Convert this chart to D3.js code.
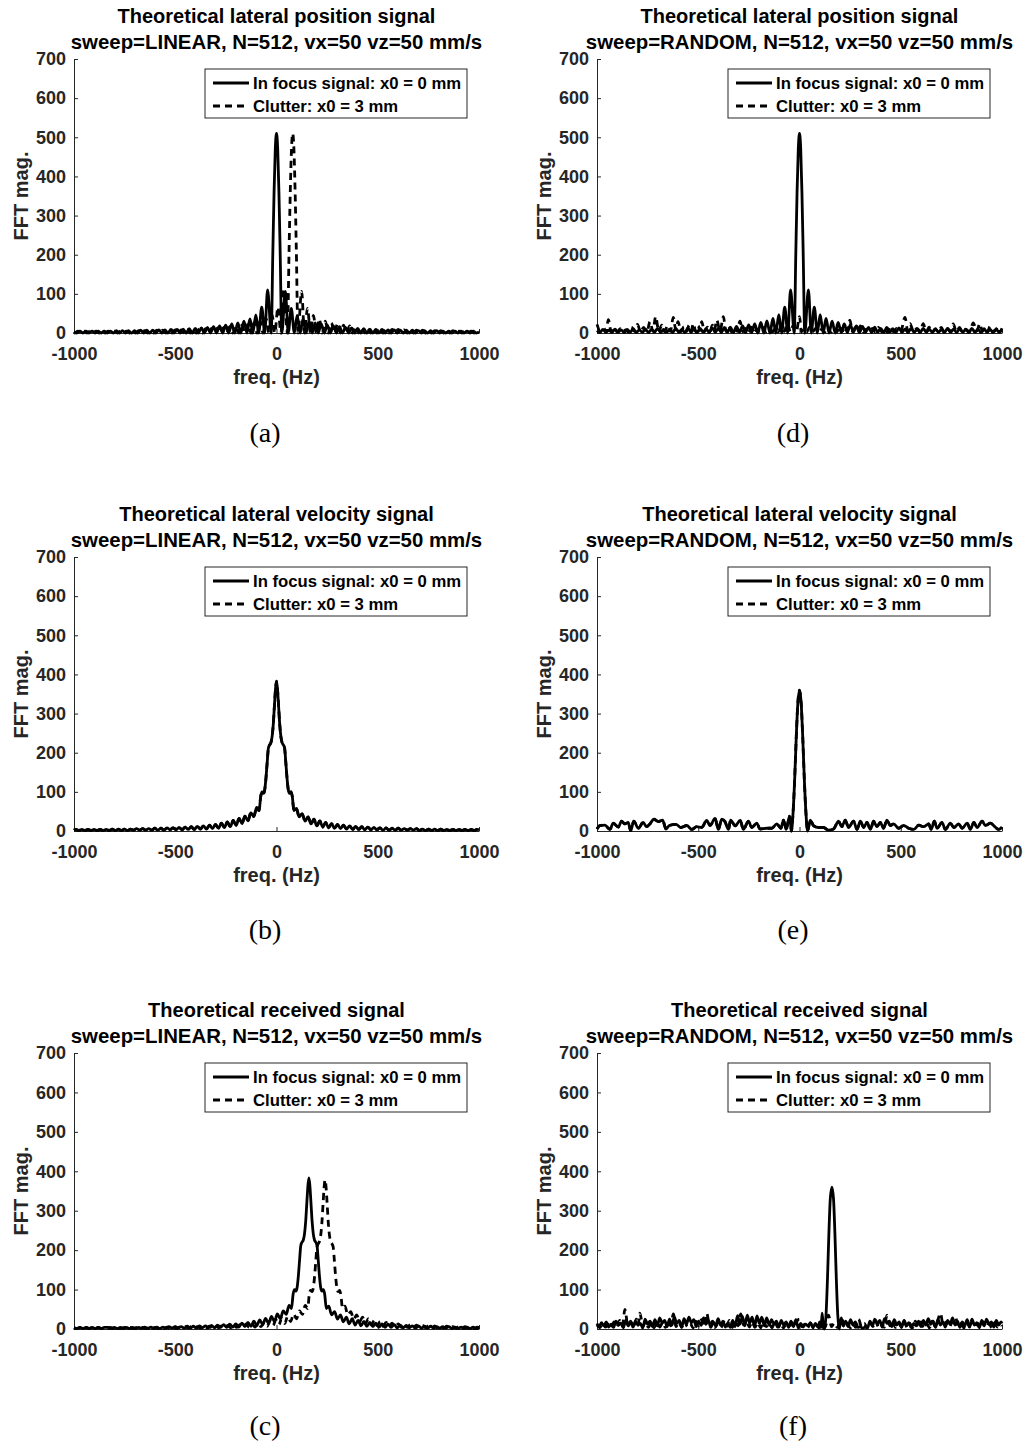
<!DOCTYPE html>
<html><head><meta charset="utf-8">
<script src="https://cdn.jsdelivr.net/npm/d3@7"></script>
<style>
body{margin:0;background:#fff;}
svg{display:block;}
</style></head><body>
<svg id="chart" width="1026" height="1444"></svg>
<script>
// ---------------- DATA ----------------
const xTickValues = [-1000, -500, 0, 500, 1000];
const xTickLabels = ["-1000", "-500", "0", "500", "1000"];
const yTickValues = [0, 100, 200, 300, 400, 500, 600, 700];
const yTickLabels = ["0", "100", "200", "300", "400", "500", "600", "700"];

const titleLines = ["Theoretical lateral position signal", "Theoretical lateral velocity signal", "Theoretical received signal"];
const sweepNames = ["LINEAR", "RANDOM"];
const subtitleTemplate = ["sweep=", ", N=512, vx=50 vz=50 mm/s"];
const legendLabels = ["In focus signal: x0 = 0 mm", "Clutter: x0 = 3 mm"];
const captions = ["(a)", "(b)", "(c)", "(d)", "(e)", "(f)"];
const xLabel = "freq. (Hz)";
const yLabel = "FFT mag.";

// (a) lateral position, LINEAR sweep – in focus  [freq Hz, magnitude]
const posLinFocus = [[-1000,3],[-986,0],[-971,5],[-956,0],[-941,5],[-926,0],[-911,5],[-896,0],[-881,5],[-866,0],[-851,5],[-836,0],[-821,5],[-806,0],[-791,6],[-776,0],[-761,6],[-746,0],[-731,6],[-716,0],[-701,6],[-686,0],[-671,7],[-656,0],[-641,7],[-626,0],[-611,7],[-596,0],[-581,8],[-566,0],[-551,8],[-536,0],[-521,9],[-506,0],[-491,9],[-476,0],[-461,10],[-446,0],[-431,11],[-416,0],[-401,12],[-386,0],[-371,13],[-356,0],[-341,14],[-326,0],[-311,16],[-296,0],[-281,18],[-266,0],[-251,20],[-236,0],[-221,23],[-206,0],[-191,26],[-176,0],[-161,30],[-146,0],[-131,36],[-117,0],[-102,46],[-88,0],[-73,66],[-58,0],[-44,110],[-26,0],[-18,210],[-12,360],[-6,470],[0,510],[6,470],[12,360],[18,210],[26,0],[44,106],[58,0],[73,63],[88,0],[102,45],[117,0],[131,36],[146,0],[161,30],[176,0],[191,26],[206,0],[221,23],[236,0],[251,20],[266,0],[281,18],[296,0],[311,16],[326,0],[341,14],[356,0],[371,13],[386,0],[401,12],[416,0],[431,11],[446,0],[461,10],[476,0],[491,9],[506,0],[521,9],[536,0],[551,8],[566,0],[581,8],[596,0],[611,7],[626,0],[641,7],[656,0],[671,7],[686,0],[701,6],[716,0],[731,6],[746,0],[761,6],[776,0],[791,6],[806,0],[821,5],[836,0],[851,5],[866,0],[881,5],[896,0],[911,5],[926,0],[941,5],[956,0],[971,5],[986,0],[1000,3]];
// (a) clutter
const posLinClutter = [[-1000,2],[-996,0],[-981,5],[-966,0],[-951,5],[-936,0],[-921,5],[-906,0],[-891,5],[-876,0],[-861,5],[-846,0],[-831,5],[-816,0],[-801,5],[-786,0],[-771,5],[-756,0],[-741,5],[-726,0],[-711,6],[-696,0],[-681,6],[-666,0],[-651,6],[-636,0],[-621,6],[-606,0],[-591,7],[-576,0],[-561,7],[-546,0],[-531,7],[-516,0],[-501,8],[-486,0],[-471,8],[-456,0],[-441,9],[-426,0],[-411,9],[-396,0],[-381,10],[-366,0],[-351,11],[-336,0],[-321,12],[-306,0],[-291,13],[-276,0],[-261,14],[-246,0],[-231,16],[-216,0],[-201,18],[-186,0],[-171,20],[-156,0],[-141,23],[-126,0],[-111,26],[-96,0],[-81,30],[-66,0],[-51,36],[-37,0],[-22,46],[-8,0],[7,66],[22,0],[36,110],[54,0],[62,210],[68,360],[74,470],[80,510],[86,470],[92,360],[98,210],[106,0],[124,106],[138,0],[153,63],[168,0],[182,45],[197,0],[211,36],[226,0],[241,30],[256,0],[271,26],[286,0],[301,23],[316,0],[331,20],[346,0],[361,18],[376,0],[391,16],[406,0],[421,14],[436,0],[451,13],[466,0],[481,12],[496,0],[511,11],[526,0],[541,10],[556,0],[571,9],[586,0],[601,9],[616,0],[631,8],[646,0],[661,8],[676,0],[691,7],[706,0],[721,7],[736,0],[751,7],[766,0],[781,6],[796,0],[811,6],[826,0],[841,6],[856,0],[871,6],[886,0],[901,5],[916,0],[931,5],[946,0],[961,5],[976,0],[991,5],[1000,3]];

// (b) lateral velocity, LINEAR sweep – in focus (clutter coincides)
const velLinFocus = [[-1000,2],[-991,4],[-976,1],[-961,4],[-946,1],[-931,4],[-916,1],[-901,4],[-886,1],[-871,4],[-856,1],[-841,4],[-826,1],[-811,5],[-796,1],[-781,5],[-766,1],[-751,5],[-736,1],[-721,5],[-706,2],[-691,6],[-676,2],[-661,6],[-646,2],[-631,6],[-616,2],[-601,7],[-586,2],[-571,7],[-556,2],[-541,8],[-526,3],[-511,8],[-496,3],[-481,9],[-466,3],[-451,10],[-436,4],[-421,11],[-406,4],[-391,12],[-376,5],[-361,13],[-346,5],[-331,15],[-316,6],[-301,17],[-286,7],[-272,20],[-257,9],[-243,23],[-228,11],[-214,27],[-199,14],[-185,32],[-170,19],[-156,38],[-141,26],[-127,46],[-112,37],[-98,60],[-86,52],[-78,88],[-72,100],[-64,96],[-58,106],[-52,135],[-46,175],[-40,212],[-34,220],[-28,225],[-22,240],[-16,272],[-10,322],[-5,362],[0,383],[5,362],[10,322],[16,272],[22,240],[28,225],[34,220],[40,212],[46,175],[52,135],[58,106],[64,96],[72,100],[78,88],[86,52],[98,58],[112,36],[127,44],[141,25],[156,36],[170,18],[185,30],[199,13],[214,26],[228,10],[243,22],[257,8],[272,19],[286,7],[301,17],[316,6],[331,15],[346,5],[361,13],[376,4],[391,12],[406,4],[421,11],[436,3],[451,10],[466,3],[481,9],[496,3],[511,8],[526,2],[541,8],[556,2],[571,7],[586,2],[601,7],[616,2],[631,6],[646,2],[661,6],[676,2],[691,6],[706,1],[721,5],[736,1],[751,5],[766,1],[781,5],[796,1],[811,5],[826,1],[841,4],[856,1],[871,4],[886,1],[901,4],[916,1],[931,4],[946,1],[961,4],[976,1],[991,4],[1000,3]];
const velLinClutter = velLinFocus;

// (c) received, LINEAR sweep
const recvLinFocus = [[-1000,3],[-985,1],[-970,4],[-955,1],[-940,4],[-925,1],[-910,4],[-895,1],[-880,4],[-865,1],[-850,4],[-831,4],[-816,1],[-801,4],[-786,1],[-771,4],[-756,1],[-741,4],[-726,1],[-711,4],[-696,1],[-681,4],[-666,1],[-651,5],[-636,1],[-621,5],[-606,1],[-591,5],[-576,1],[-561,5],[-546,2],[-531,6],[-516,2],[-501,6],[-486,2],[-471,6],[-456,2],[-441,7],[-426,2],[-411,7],[-396,2],[-381,8],[-366,3],[-351,8],[-336,3],[-321,9],[-306,3],[-291,10],[-276,4],[-261,11],[-246,4],[-231,12],[-216,5],[-201,13],[-186,5],[-171,15],[-156,6],[-141,17],[-126,7],[-112,20],[-97,9],[-83,23],[-68,11],[-54,27],[-39,14],[-25,32],[-10,19],[4,38],[19,26],[33,46],[48,37],[62,60],[74,52],[82,88],[88,100],[96,96],[102,106],[108,135],[114,175],[120,212],[126,220],[132,225],[138,240],[144,272],[150,322],[155,362],[160,383],[165,362],[170,322],[176,272],[182,240],[188,225],[194,220],[200,212],[206,175],[212,135],[218,106],[224,96],[232,100],[238,88],[246,52],[258,58],[272,36],[287,44],[301,25],[316,36],[330,18],[345,30],[359,13],[374,26],[388,10],[403,22],[417,8],[432,19],[446,7],[461,17],[476,6],[491,15],[506,5],[521,13],[536,4],[551,12],[566,4],[581,11],[596,3],[611,10],[626,3],[641,9],[656,3],[671,8],[686,2],[701,8],[716,2],[731,7],[746,2],[761,7],[776,2],[791,6],[806,2],[821,6],[836,2],[851,6],[866,1],[881,5],[896,1],[911,5],[926,1],[941,5],[956,1],[971,5],[986,1],[1000,4]];
const recvLinClutter = [[-1000,3],[-985,1],[-970,4],[-955,1],[-940,4],[-925,1],[-910,4],[-895,1],[-880,4],[-865,1],[-850,4],[-835,1],[-820,4],[-805,1],[-790,4],[-775,1],[-751,4],[-736,1],[-721,4],[-706,1],[-691,4],[-676,1],[-661,4],[-646,1],[-631,4],[-616,1],[-601,4],[-586,1],[-571,5],[-556,1],[-541,5],[-526,1],[-511,5],[-496,1],[-481,5],[-466,2],[-451,6],[-436,2],[-421,6],[-406,2],[-391,6],[-376,2],[-361,7],[-346,2],[-331,7],[-316,2],[-301,8],[-286,3],[-271,8],[-256,3],[-241,9],[-226,3],[-211,10],[-196,4],[-181,11],[-166,4],[-151,12],[-136,5],[-121,13],[-106,5],[-91,15],[-76,6],[-61,17],[-46,7],[-32,20],[-17,9],[-3,23],[12,11],[26,27],[41,14],[55,32],[70,19],[84,38],[99,26],[113,46],[128,37],[142,60],[154,52],[162,88],[168,98],[176,95],[182,105],[188,133],[194,172],[200,208],[206,216],[212,222],[218,236],[224,268],[230,318],[235,358],[240,378],[245,358],[250,318],[256,268],[262,236],[268,222],[274,216],[280,208],[286,172],[292,133],[298,105],[304,95],[312,98],[318,86],[326,52],[338,58],[352,36],[367,44],[381,25],[396,36],[410,18],[425,30],[439,13],[454,26],[468,10],[483,22],[497,8],[512,19],[526,7],[541,17],[556,6],[571,15],[586,5],[601,13],[616,4],[631,12],[646,4],[661,11],[676,3],[691,10],[706,3],[721,9],[736,3],[751,8],[766,2],[781,8],[796,2],[811,7],[826,2],[841,7],[856,2],[871,6],[886,2],[901,6],[916,2],[931,6],[946,1],[961,5],[976,1],[991,5],[1000,3]];

// (d) lateral position, RANDOM sweep
const posRandFocus = [[-1000,6],[-986,1],[-971,9],[-956,2],[-941,7],[-926,1],[-911,10],[-896,2],[-881,8],[-866,1],[-851,9],[-836,2],[-821,11],[-806,1],[-791,8],[-776,2],[-761,10],[-746,1],[-731,9],[-716,2],[-701,12],[-686,1],[-671,9],[-656,2],[-641,10],[-626,1],[-611,12],[-596,2],[-581,9],[-566,1],[-551,13],[-536,2],[-521,10],[-506,1],[-491,12],[-476,2],[-461,11],[-446,1],[-431,13],[-416,2],[-401,12],[-386,1],[-371,14],[-356,2],[-341,15],[-326,1],[-311,17],[-296,2],[-281,18],[-266,1],[-251,21],[-236,1],[-221,23],[-206,0],[-191,27],[-176,0],[-161,31],[-146,0],[-131,37],[-117,0],[-102,47],[-88,0],[-73,66],[-58,0],[-44,110],[-26,0],[-18,210],[-12,360],[-6,470],[0,510],[6,470],[12,360],[18,210],[26,0],[44,110],[58,0],[73,66],[88,0],[102,47],[117,0],[131,37],[146,0],[161,30],[176,0],[191,27],[206,1],[221,23],[236,1],[251,21],[266,2],[281,18],[296,1],[311,17],[326,2],[341,14],[356,1],[371,15],[386,2],[401,12],[416,1],[431,14],[446,2],[461,11],[476,1],[491,13],[506,2],[521,10],[536,1],[551,12],[566,2],[581,9],[596,1],[611,12],[626,2],[641,10],[656,1],[671,11],[686,2],[701,9],[716,1],[731,12],[746,2],[761,10],[776,1],[791,11],[806,2],[821,9],[836,1],[851,12],[866,2],[881,10],[896,1],[911,11],[926,2],[941,9],[956,1],[971,10],[986,2],[1000,7]];
const posRandClutter = [[-1000,22],[-985,6],[-966,12],[-955,3],[-944,34],[-930,4],[-915,12],[-900,2],[-886,11],[-872,3],[-858,8],[-844,2],[-830,15],[-815,4],[-800,22],[-785,3],[-770,14],[-754,2],[-738,29],[-724,5],[-710,42],[-695,4],[-680,20],[-666,3],[-652,18],[-638,4],[-623,40],[-611,8],[-600,29],[-585,3],[-571,16],[-558,4],[-545,20],[-535,6],[-524,24],[-512,3],[-500,18],[-492,6],[-483,29],[-469,3],[-455,15],[-442,4],[-430,20],[-420,6],[-409,33],[-392,5],[-376,42],[-363,4],[-350,18],[-336,3],[-322,15],[-308,4],[-294,30],[-280,3],[-265,12],[-252,2],[-238,15],[-224,3],[-210,10],[-195,2],[-180,14],[-165,3],[-150,10],[-135,2],[-120,12],[-105,3],[-90,18],[-75,4],[-60,25],[-45,3],[-30,20],[-15,5],[0,42],[10,3],[20,10],[35,2],[50,15],[65,3],[80,12],[95,2],[110,10],[125,3],[140,15],[155,2],[170,12],[185,3],[200,18],[212,4],[225,15],[237,5],[249,33],[262,3],[275,14],[288,4],[300,18],[315,2],[330,10],[345,3],[360,12],[375,2],[390,14],[405,3],[420,10],[435,2],[450,15],[465,3],[480,12],[500,4],[521,40],[534,6],[546,24],[563,3],[580,12],[596,4],[611,24],[626,3],[640,15],[655,2],[670,10],[685,3],[700,14],[715,2],[730,12],[745,4],[759,23],[775,3],[790,14],[805,2],[820,10],[840,3],[858,26],[875,5],[891,24],[903,4],[915,12],[928,3],[941,17],[962,4],[982,16],[992,5],[1000,12]];

// (e) lateral velocity, RANDOM sweep (clutter coincides)
const velRandFocus = [[-1000,5],[-986,14],[-961,15],[-936,4],[-920,20],[-895,10],[-879,25],[-862,18],[-846,22],[-834,1],[-818,25],[-796,7],[-772,22],[-755,11],[-739,18],[-719,30],[-697,24],[-676,28],[-659,5],[-643,14],[-610,17],[-585,9],[-557,14],[-532,4],[-508,11],[-483,9],[-458,27],[-442,14],[-417,32],[-401,4],[-384,30],[-368,24],[-351,4],[-340,28],[-318,13],[-293,27],[-277,4],[-252,25],[-236,9],[-211,20],[-195,5],[-162,7],[-137,7],[-112,18],[-92,7],[-79,28],[-66,4],[-49,38],[-40,0],[-32,45],[-24,130],[-16,240],[-8,328],[0,360],[8,328],[16,240],[24,130],[32,45],[40,0],[53,28],[69,14],[94,9],[119,9],[143,2],[168,5],[193,25],[209,11],[226,28],[242,9],[267,25],[284,4],[300,25],[317,9],[333,22],[350,4],[366,25],[382,11],[399,22],[415,7],[432,28],[448,14],[465,18],[490,7],[514,14],[539,7],[564,4],[589,15],[613,11],[638,18],[650,4],[666,25],[679,7],[704,22],[720,4],[745,20],[762,9],[786,18],[803,7],[828,20],[844,4],[861,22],[877,9],[902,25],[918,14],[943,20],[968,9],[984,4],[1000,10]];
const velRandClutter = velRandFocus;

// (f) received, RANDOM sweep
const recvRandFocus = [[-1000,14],[-990,6],[-978,16],[-966,8],[-954,18],[-942,5],[-930,12],[-918,4],[-906,20],[-894,10],[-882,15],[-870,3],[-858,22],[-846,8],[-834,18],[-822,5],[-810,20],[-798,10],[-786,14],[-774,3],[-762,25],[-750,12],[-738,20],[-726,6],[-714,24],[-702,8],[-690,28],[-678,15],[-666,22],[-654,6],[-642,25],[-630,10],[-618,30],[-606,14],[-594,22],[-582,5],[-570,26],[-558,12],[-546,30],[-534,16],[-522,24],[-510,6],[-498,20],[-486,9],[-474,28],[-462,12],[-450,22],[-438,4],[-426,18],[-414,8],[-402,26],[-390,10],[-378,20],[-366,5],[-354,15],[-342,4],[-330,22],[-318,6],[-306,34],[-294,12],[-282,32],[-270,8],[-258,35],[-246,15],[-234,30],[-222,6],[-210,33],[-198,14],[-186,30],[-174,8],[-162,28],[-150,10],[-138,24],[-126,12],[-114,20],[-102,5],[-90,22],[-78,10],[-66,18],[-54,4],[-42,20],[-30,6],[-18,24],[-6,3],[6,14],[18,5],[30,12],[42,8],[54,16],[66,3],[78,14],[90,6],[100,18],[106,4],[112,40],[118,2],[124,0],[131,35],[138,125],[145,240],[152,330],[160,360],[168,330],[175,240],[182,125],[189,35],[196,0],[206,28],[216,8],[228,20],[240,6],[252,24],[264,10],[276,18],[288,4],[300,6],[312,2],[324,5],[336,3],[348,20],[360,8],[372,25],[384,12],[396,22],[408,5],[420,26],[432,14],[444,20],[456,6],[468,24],[480,10],[492,18],[504,4],[516,22],[528,8],[540,16],[552,3],[564,14],[576,8],[588,20],[600,6],[612,22],[624,10],[636,26],[648,12],[660,20],[672,4],[684,24],[696,10],[708,18],[720,5],[732,22],[744,12],[756,28],[768,10],[780,20],[792,4],[804,18],[816,8],[828,24],[840,6],[852,20],[864,10],[876,16],[888,3],[900,22],[912,8],[924,25],[936,12],[948,18],[960,5],[972,22],[984,10],[996,18],[1000,14]];
const recvRandClutter = [[-1000,10],[-986,3],[-972,15],[-958,5],[-944,12],[-930,3],[-916,18],[-902,6],[-888,22],[-875,8],[-862,50],[-848,10],[-834,20],[-820,4],[-806,25],[-797,10],[-788,40],[-774,6],[-760,18],[-746,4],[-732,15],[-718,3],[-704,20],[-690,5],[-676,16],[-662,4],[-648,22],[-636,8],[-623,38],[-610,6],[-596,18],[-582,4],[-568,22],[-554,6],[-540,15],[-526,3],[-512,20],[-498,8],[-484,24],[-470,6],[-458,40],[-444,8],[-430,20],[-416,4],[-402,15],[-388,3],[-374,18],[-360,6],[-346,22],[-332,4],[-318,20],[-304,8],[-290,38],[-276,10],[-262,22],[-248,5],[-234,18],[-220,4],[-206,16],[-192,3],[-178,20],[-164,6],[-150,15],[-136,3],[-122,18],[-108,5],[-94,14],[-80,3],[-66,12],[-52,4],[-38,16],[-24,5],[-10,22],[0,25],[12,6],[26,12],[40,3],[54,15],[68,5],[82,10],[96,3],[110,12],[126,4],[143,35],[158,6],[172,15],[186,4],[200,18],[210,25],[222,5],[236,15],[250,3],[264,12],[278,4],[292,25],[306,6],[320,14],[334,3],[348,18],[362,6],[376,22],[390,5],[404,15],[418,4],[432,35],[446,8],[460,20],[474,4],[488,16],[502,6],[516,22],[530,5],[544,15],[558,3],[572,20],[586,6],[600,18],[614,4],[628,14],[642,3],[656,20],[670,6],[684,24],[696,40],[710,8],[724,18],[738,4],[752,16],[770,30],[784,6],[798,14],[812,3],[826,18],[840,5],[852,25],[866,6],[880,15],[894,3],[908,18],[922,5],[936,14],[950,3],[964,16],[978,5],[992,12],[1000,8]];

// ---------------- LAYOUT ----------------
const colExtents = [[74, 479], [597, 1002]];
const rowExtents = [[59, 333], [557, 831], [1053, 1329]];
const captionX = [265, 793];
const captionY = [432, 929, 1425];

const panels = [
  {row: 0, col: 0, focus: posLinFocus,  clutter: posLinClutter,  cap: 0},
  {row: 1, col: 0, focus: velLinFocus,  clutter: velLinClutter,  cap: 1},
  {row: 2, col: 0, focus: recvLinFocus, clutter: recvLinClutter, cap: 2},
  {row: 0, col: 1, focus: posRandFocus, clutter: posRandClutter, cap: 3},
  {row: 1, col: 1, focus: velRandFocus, clutter: velRandClutter, cap: 4},
  {row: 2, col: 1, focus: recvRandFocus,clutter: recvRandClutter,cap: 5}
];

const svg = d3.select("#chart");
svg.append("rect").attr("width", 1026).attr("height", 1444).attr("fill", "#fff");
const SANS = "'Liberation Sans', Arial, Helvetica, sans-serif";
const AXIS_COLOR = "#262626";
const LW = 2.8;
const DASH = "7,5";

panels.forEach(p => {
  const [x0, x1] = colExtents[p.col];
  const [top, bottom] = rowExtents[p.row];
  const x = d3.scaleLinear().domain([-1000, 1000]).range([x0, x1]);
  const y = d3.scaleLinear().domain([0, 700]).range([bottom, top]);
  const g = svg.append("g");
  const cx = (x0 + x1) / 2;

  // titles
  g.append("text").attr("x", cx).attr("y", top - 36)
    .attr("text-anchor", "middle").attr("font-family", SANS).attr("font-weight", "bold")
    .attr("font-size", 20).attr("fill", "#000").text(titleLines[p.row]);
  g.append("text").attr("x", cx).attr("y", top - 10.5)
    .attr("text-anchor", "middle").attr("font-family", SANS).attr("font-weight", "bold")
    .attr("font-size", 20.4).attr("fill", "#000")
    .text(subtitleTemplate[0] + sweepNames[p.col] + subtitleTemplate[1]);

  // axes
  const yAxis = d3.axisLeft(y).tickValues(yTickValues)
    .tickFormat((d, i) => yTickLabels[i]).tickSizeInner(-4).tickSizeOuter(0).tickPadding(8);
  const xAxis = d3.axisBottom(x).tickValues(xTickValues)
    .tickFormat((d, i) => xTickLabels[i]).tickSizeInner(-4).tickSizeOuter(0).tickPadding(14);

  const gy = g.append("g").attr("transform", `translate(${x0},0)`).call(yAxis);
  const gx = g.append("g").attr("transform", `translate(0,${bottom})`).call(xAxis);
  [gx, gy].forEach(a => {
    a.select(".domain").attr("stroke", AXIS_COLOR).attr("stroke-width", 1);
    a.selectAll(".tick line").attr("stroke", AXIS_COLOR).attr("stroke-width", 1);
    a.selectAll(".tick text").attr("fill", AXIS_COLOR).attr("font-family", SANS)
      .attr("font-weight", "bold").attr("font-size", 18);
  });

  // axis labels
  g.append("text").attr("x", cx).attr("y", bottom + 51)
    .attr("text-anchor", "middle").attr("font-family", SANS).attr("font-weight", "bold")
    .attr("font-size", 20).attr("fill", AXIS_COLOR).text(xLabel);
  g.append("text").attr("transform", `translate(${x0 - 46},${(top + bottom) / 2}) rotate(-90)`)
    .attr("text-anchor", "middle").attr("font-family", SANS).attr("font-weight", "bold")
    .attr("font-size", 20).attr("fill", AXIS_COLOR).text(yLabel);

  // data lines
  const line = d3.line().x(d => x(d[0])).y(d => y(d[1])).curve(d3.curveMonotoneX);
  g.append("path").datum(p.focus).attr("d", line)
    .attr("fill", "none").attr("stroke", "#000").attr("stroke-width", LW)
    .attr("stroke-linejoin", "round");
  g.append("path").datum(p.clutter).attr("d", line)
    .attr("fill", "none").attr("stroke", "#000").attr("stroke-width", LW)
    .attr("stroke-dasharray", DASH);

  // legend
  const lx = x1 - 274, ly = top + 10, lw = 262, lh = 49;
  const lg = g.append("g");
  lg.append("rect").attr("x", lx).attr("y", ly).attr("width", lw).attr("height", lh)
    .attr("fill", "#fff").attr("stroke", AXIS_COLOR).attr("stroke-width", 1);
  const rowsY = [ly + 14, ly + 37];
  legendLabels.forEach((lab, i) => {
    lg.append("line").attr("x1", lx + 8).attr("x2", lx + 44).attr("y1", rowsY[i]).attr("y2", rowsY[i])
      .attr("stroke", "#000").attr("stroke-width", LW)
      .attr("stroke-dasharray", i === 1 ? DASH : null);
    lg.append("text").attr("x", lx + 48).attr("y", rowsY[i]).attr("dy", "0.35em")
      .attr("font-family", SANS).attr("font-weight", "bold").attr("font-size", 16.7)
      .attr("fill", "#000").text(lab);
  });

  // caption
  svg.append("text").attr("x", captionX[p.col]).attr("y", captionY[p.row])
    .attr("dy", "0.35em").attr("text-anchor", "middle")
    .attr("font-family", "'Liberation Serif', 'Times New Roman', serif")
    .attr("font-size", 28).attr("fill", "#000").text(captions[p.cap]);
});
</script>
</body></html>
